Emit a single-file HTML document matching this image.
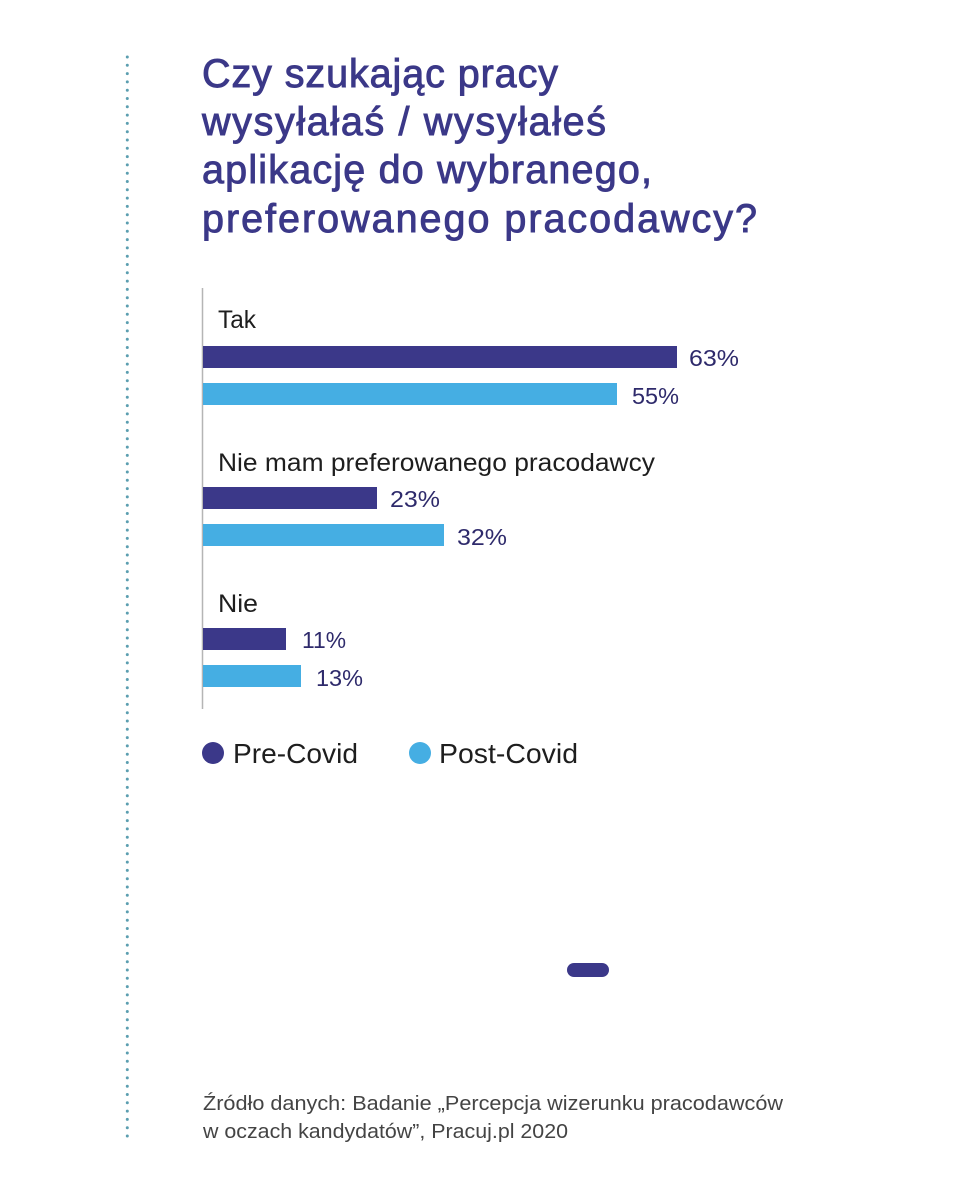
<!DOCTYPE html>
<html>
<head>
<meta charset="utf-8">
<style>
  html,body{margin:0;padding:0;background:#fff;}
  svg{display:block;}
  text{font-family:"Liberation Sans", sans-serif;}
</style>
</head>
<body>
<svg width="960" height="1184" viewBox="0 0 960 1184" xmlns="http://www.w3.org/2000/svg">
  <rect width="960" height="1184" fill="#ffffff"/>
  <!-- dotted vertical line -->
  <line x1="127.3" y1="57" x2="127.3" y2="1138" stroke="#5b9eb0" stroke-width="3" stroke-linecap="round" stroke-dasharray="0 8.3"/>

  <!-- title -->
  <g fill="#3b3888" stroke="#3b3888" stroke-width="0.9" font-size="39.5">
    <text x="202" y="87" textLength="356" lengthAdjust="spacing">Czy szukając pracy</text>
    <text x="202" y="135" textLength="404" lengthAdjust="spacing">wysyłałaś / wysyłałeś</text>
    <text x="202" y="183" textLength="450" lengthAdjust="spacing">aplikację do wybranego,</text>
    <text x="202" y="232" textLength="555" lengthAdjust="spacing">preferowanego pracodawcy?</text>
  </g>

  <!-- axis -->
  <line x1="202.5" y1="288" x2="202.5" y2="709" stroke="#b5b5b5" stroke-width="1.5"/>

  <!-- category labels -->
  <g fill="#1e1e1e" font-size="25">
    <text x="218" y="328" textLength="38" lengthAdjust="spacingAndGlyphs">Tak</text>
    <text x="218" y="471" textLength="437" lengthAdjust="spacingAndGlyphs">Nie mam preferowanego pracodawcy</text>
    <text x="218" y="612" textLength="40" lengthAdjust="spacingAndGlyphs">Nie</text>
  </g>

  <!-- bars -->
  <rect x="203" y="346" width="474" height="22" fill="#3b3889"/>
  <rect x="203" y="383" width="414" height="22" fill="#45aee3"/>
  <rect x="203" y="487" width="174" height="22" fill="#3b3889"/>
  <rect x="203" y="524" width="241" height="22" fill="#45aee3"/>
  <rect x="203" y="628" width="83" height="22" fill="#3b3889"/>
  <rect x="203" y="665" width="98" height="22" fill="#45aee3"/>

  <!-- values -->
  <g fill="#2e2a6b" font-size="23">
    <text x="689" y="366" textLength="50" lengthAdjust="spacingAndGlyphs">63%</text>
    <text x="632" y="404" textLength="47" lengthAdjust="spacingAndGlyphs">55%</text>
    <text x="390" y="507" textLength="50" lengthAdjust="spacingAndGlyphs">23%</text>
    <text x="457" y="545" textLength="50" lengthAdjust="spacingAndGlyphs">32%</text>
    <text x="302" y="648" textLength="44" lengthAdjust="spacingAndGlyphs">11%</text>
    <text x="316" y="686" textLength="47" lengthAdjust="spacingAndGlyphs">13%</text>
  </g>

  <!-- legend -->
  <circle cx="213" cy="753" r="11" fill="#3b3889"/>
  <text x="233" y="763" font-size="28" fill="#1e1e1e" textLength="125" lengthAdjust="spacingAndGlyphs">Pre-Covid</text>
  <circle cx="420" cy="753" r="11" fill="#45aee3"/>
  <text x="439" y="763" font-size="28" fill="#1e1e1e" textLength="139" lengthAdjust="spacingAndGlyphs">Post-Covid</text>

  <!-- pill -->
  <rect x="567" y="963" width="42" height="14" rx="7" ry="7" fill="#3b3889"/>

  <!-- source -->
  <g fill="#444444" font-size="20">
    <text x="203" y="1110" textLength="580" lengthAdjust="spacingAndGlyphs">Źródło danych: Badanie „Percepcja wizerunku pracodawców</text>
    <text x="203" y="1138" textLength="365" lengthAdjust="spacingAndGlyphs">w oczach kandydatów”, Pracuj.pl 2020</text>
  </g>
</svg>
</body>
</html>
